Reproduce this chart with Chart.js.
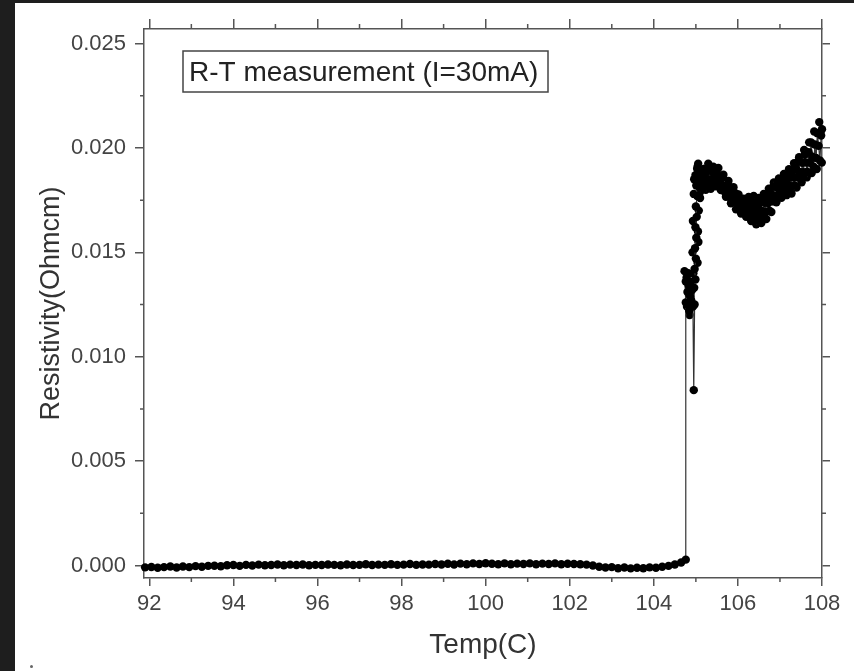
<!DOCTYPE html>
<html>
<head>
<meta charset="utf-8">
<script src="https://cdn.jsdelivr.net/npm/chart.js@4.4.0/dist/chart.umd.min.js"></script>
<style>
  html, body { margin: 0; padding: 0; background: #fff; }
  body { width: 854px; height: 671px; overflow: hidden; position: relative; }
  #edgeL { position: absolute; left: 0; top: 0; width: 15px; height: 671px; background: #1e1e1e; }
  #edgeT { position: absolute; left: 0; top: 0; width: 854px; height: 3px; background: #1e1e1e; }
  #speck { position: absolute; left: 30px; top: 665px; width: 3px; height: 3px; border-radius: 50%; background: #666; }
  #wrap { position: absolute; left: 15px; top: 3px; width: 839px; height: 668px; }
</style>
</head>
<body>
<div id="edgeL"></div>
<div id="edgeT"></div>
<div id="speck"></div>
<div id="wrap"><canvas id="rt"></canvas></div>
<script>
// temperature (C) and resistivity (Ohm cm)
const temps = [
  91.90, 92.05, 92.20, 92.35, 92.50, 92.65, 92.80, 92.95, 93.10, 93.25,
  93.40, 93.55, 93.70, 93.85, 94.00, 94.15, 94.30, 94.45, 94.60, 94.75,
  94.90, 95.05, 95.20, 95.35, 95.50, 95.65, 95.80, 95.95, 96.10, 96.25,
  96.40, 96.55, 96.70, 96.85, 97.00, 97.15, 97.30, 97.45, 97.60, 97.75,
  97.90, 98.05, 98.20, 98.35, 98.50, 98.65, 98.80, 98.95, 99.10, 99.25,
  99.40, 99.55, 99.70, 99.85, 100.00, 100.15, 100.30, 100.45, 100.60, 100.75,
  100.90, 101.05, 101.20, 101.35, 101.50, 101.65, 101.80, 101.95, 102.10, 102.25,
  102.40, 102.55, 102.70, 102.85, 103.00, 103.15, 103.30, 103.45, 103.60, 103.75,
  103.90, 104.05, 104.20, 104.35, 104.50, 104.65, 104.76,
  // jump
  104.76, 104.73, 104.78, 104.80, 104.76, 104.83, 104.81, 104.86, 104.84, 104.89,
  104.91, 104.93, 104.95, 104.97, 104.96, 104.99, 104.97, 105.00, 104.98, 105.01,
  104.99, 105.02, 105.00, 105.03, 105.01, 104.99, 105.03, 104.98,
  // above transition
  105.04, 105.07, 105.10, 105.13, 105.16, 105.19, 105.22, 105.25, 105.28, 105.31,
  105.34, 105.37, 105.40, 105.43, 105.46, 105.49, 105.52, 105.55, 105.58, 105.61,
  105.64, 105.67, 105.70, 105.73, 105.76, 105.79, 105.82, 105.85, 105.88, 105.91,
  105.94, 105.97, 106.00, 106.03, 106.06, 106.09, 106.12, 106.15, 106.18, 106.21,
  106.24, 106.27, 106.30, 106.33, 106.36, 106.39, 106.42, 106.45, 106.48, 106.51,
  106.54, 106.57, 106.60, 106.63, 106.66, 106.69, 106.72, 106.75, 106.78, 106.81,
  106.84, 106.87, 106.90, 106.93, 106.96, 106.99, 107.02, 107.05, 107.08, 107.11,
  107.14, 107.17, 107.20, 107.23, 107.26, 107.29, 107.32, 107.35, 107.38, 107.41,
  107.44, 107.47, 107.50, 107.53, 107.56, 107.59, 107.62, 107.65, 107.68, 107.71,
  107.74, 107.77, 107.80, 107.83, 107.86, 107.89, 107.92, 107.95, 107.98, 108.00
];
const resist = [
  -0.00009, -0.00007, -0.00011, -0.00008, -0.00005, -0.00010, -0.00005, -0.00008, -0.00003, -0.00006,
  -0.00002, -0.00001, -0.00004, 0.00001, 0.00002, -0.00002, 0.00003, 0.00000, 0.00004, 0.00001,
  0.00002, 0.00005, 0.00001, 0.00004, 0.00002, 0.00005, 0.00001, 0.00003, 0.00002, 0.00005,
  0.00003, 0.00001, 0.00005, 0.00002, 0.00003, 0.00006, 0.00002, 0.00004, 0.00003, 0.00006,
  0.00003, 0.00004, 0.00007, 0.00003, 0.00005, 0.00004, 0.00007, 0.00005, 0.00008, 0.00005,
  0.00009, 0.00006, 0.00010, 0.00007, 0.00011, 0.00008, 0.00006, 0.00010, 0.00006, 0.00009,
  0.00007, 0.00010, 0.00006, 0.00009, 0.00007, 0.00010, 0.00006, 0.00008, 0.00007, 0.00006,
  0.00004, 0.00000, -0.00006, -0.00010, -0.00008, -0.00013, -0.00010, -0.00014, -0.00011, -0.00013,
  -0.00009, -0.00011, -0.00006, -0.00002, 0.00005, 0.00014, 0.00028,
  0.0126, 0.0141, 0.0138, 0.0131, 0.0136, 0.0134, 0.0125, 0.0129, 0.0122, 0.0127,
  0.0132, 0.0124, 0.0084, 0.0125, 0.0133, 0.0137, 0.0142, 0.0147, 0.0152, 0.0157,
  0.0162, 0.0167, 0.0172, 0.0177, 0.0182, 0.0187, 0.0190, 0.0185,
  0.01910, 0.01850, 0.01810, 0.01880, 0.01830, 0.01900, 0.01860, 0.01815, 0.01890, 0.01840,
  0.01910, 0.01850, 0.01822, 0.01878, 0.01842, 0.01889, 0.01860, 0.01825, 0.01863, 0.01825,
  0.01860, 0.01816, 0.01785, 0.01819, 0.01782, 0.01816, 0.01785, 0.01750, 0.01788, 0.01750,
  0.01783, 0.01742, 0.01717, 0.01745, 0.01714, 0.01738, 0.01719, 0.01695, 0.01734, 0.01702,
  0.01750, 0.01704, 0.01670, 0.01725, 0.01679, 0.01739, 0.01701, 0.01656, 0.01727, 0.01676,
  0.01752, 0.01698, 0.01663, 0.01738, 0.01693, 0.01768, 0.01736, 0.01700, 0.01782, 0.01744,
  0.01815, 0.01772, 0.01750, 0.01811, 0.01776, 0.01838, 0.01811, 0.01781, 0.01846, 0.01810,
  0.01872, 0.01826, 0.01793, 0.01859, 0.01817, 0.01889, 0.01858, 0.01820, 0.01903, 0.01860,
  0.01938, 0.01885, 0.01850, 0.01929, 0.01884, 0.01967, 0.01930, 0.01886, 0.01980, 0.01929,
  0.02026, 0.01958, 0.01910, 0.02017, 0.01952, 0.02071, 0.02010, 0.01940, 0.02060, 0.02090
];

// extra points of the dense upper branch (drawn as dots only)
const temps2 = [
  104.82, 104.88, 104.85, 104.79, 104.94, 105.04, 104.92, 105.06, 104.93, 105.07,
  104.95, 105.05, 104.96, 105.08, 105.10,
  105.055, 105.115, 105.175, 105.235, 105.295, 105.355, 105.415, 105.475, 105.535, 105.595,
  105.655, 105.715, 105.775, 105.835, 105.895, 105.955, 106.015, 106.075, 106.135, 106.195,
  106.255, 106.315, 106.375, 106.435, 106.495, 106.555, 106.615, 106.675, 106.735, 106.795,
  106.855, 106.915, 106.975, 107.035, 107.095, 107.155, 107.215, 107.275, 107.335, 107.395,
  107.455, 107.515, 107.575, 107.635, 107.695, 107.755, 107.815, 107.875, 107.935, 107.995
];
const resist2 = [
  0.0140, 0.0136, 0.0120, 0.0124, 0.0140, 0.0145, 0.0150, 0.0155, 0.0165, 0.0170,
  0.0178, 0.0160, 0.0185, 0.0178, 0.0176,
  0.01925, 0.01795, 0.01885, 0.01800, 0.01925, 0.01805, 0.01910, 0.01816, 0.01904, 0.01798,
  0.01872, 0.01766, 0.01842, 0.01735, 0.01812, 0.01706, 0.01777, 0.01686, 0.01757, 0.01670,
  0.01765, 0.01650, 0.01770, 0.01635, 0.01761, 0.01640, 0.01780, 0.01660, 0.01805, 0.01693,
  0.01835, 0.01740, 0.01854, 0.01761, 0.01876, 0.01774, 0.01898, 0.01782, 0.01927, 0.01811,
  0.01956, 0.01836, 0.01990, 0.01859, 0.02027, 0.01880, 0.02079, 0.01899, 0.02124, 0.01930
];

const xTicks = [92, 94, 96, 98, 100, 102, 104, 106, 108];
const xMinor = [93, 95, 97, 99, 101, 103, 105, 107];
const yTicks = [0, 0.005, 0.01, 0.015, 0.02, 0.025];
const yMinor = [0.0025, 0.0075, 0.0125, 0.0175, 0.0225];

const fam = '"Liberation Sans", Arial, Helvetica, sans-serif';
Chart.defaults.font.family = fam;

const frameCol = '#555';

// short minor ticks on all four sides
const minorTicks = {
  id: 'minorTicks',
  afterDraw(chart) {
    const ctx = chart.ctx;
    const a = chart.chartArea;
    ctx.save();
    ctx.strokeStyle = frameCol;
    ctx.lineWidth = 1.5;
    ctx.beginPath();
    for (const v of xMinor) {
      const px = chart.scales.x.getPixelForValue(v);
      ctx.moveTo(px, a.bottom); ctx.lineTo(px, a.bottom + 4);
      ctx.moveTo(px, a.top); ctx.lineTo(px, a.top - 5);
    }
    for (const v of yMinor) {
      const py = chart.scales.y.getPixelForValue(v);
      ctx.moveTo(a.left, py); ctx.lineTo(a.left - 4, py);
      ctx.moveTo(a.right, py); ctx.lineTo(a.right + 4, py);
    }
    ctx.stroke();
    ctx.restore();
  }
};

// boxed label in upper left
const labelBox = {
  id: 'labelBox',
  afterDraw(chart) {
    const ctx = chart.ctx;
    const a = chart.chartArea;
    const x = a.left + 39, y = a.top + 22;
    ctx.save();
    ctx.strokeStyle = '#444';
    ctx.lineWidth = 1.5;
    ctx.strokeRect(x, y, 365, 41);
    ctx.fillStyle = '#222';
    ctx.font = '28px ' + fam;
    ctx.textBaseline = 'alphabetic';
    ctx.fillText('R-T measurement (I=30mA)', x + 6, y + 30);
    ctx.restore();
  }
};

const pts = temps.map((t, i) => ({ x: t, y: resist[i] }));
const pts2 = temps2.map((t, i) => ({ x: t, y: resist2[i] }));

function axisBase(extra) {
  return Object.assign({
    type: 'linear',
    grid: { drawOnChartArea: false, drawTicks: true, tickLength: 8, color: frameCol, lineWidth: 1.5 },
    border: { display: true, color: frameCol, width: 1.5 }
  }, extra);
}

new Chart(document.getElementById('rt'), {
  type: 'scatter',
  data: {
    datasets: [{
      data: pts,
      showLine: true,
      borderColor: '#333',
      borderWidth: 1.2,
      pointRadius: 4.2,
      pointBackgroundColor: '#000',
      pointBorderWidth: 0,
      clip: false
    }, {
      data: pts2,
      showLine: false,
      pointRadius: 4.2,
      pointBackgroundColor: '#000',
      pointBorderWidth: 0,
      clip: false
    }]
  },
  options: {
    responsive: true,
    maintainAspectRatio: false,
    animation: false,
    layout: { padding: 0 },
    plugins: { legend: { display: false }, tooltip: { enabled: false } },
    scales: {
      x: axisBase({
        position: 'bottom',
        min: 91.874, max: 108,
        afterBuildTicks: s => { s.ticks = xTicks.map(v => ({ value: v })); },
        afterFit: s => { s.height = 93; },
        ticks: { font: { size: 22 }, color: '#444', padding: 5, maxRotation: 0, autoSkip: false,
                 callback: v => String(v) },
        title: { display: true, text: 'Temp(C)', font: { size: 28 }, color: '#333',
                 padding: { top: 0, bottom: 9 } }
      }),
      x2: axisBase({
        position: 'top',
        min: 91.874, max: 108,
        afterBuildTicks: s => { s.ticks = xTicks.map(v => ({ value: v })); },
        afterFit: s => { s.height = 26; },
        grid: { drawOnChartArea: false, drawTicks: true, tickLength: 10, color: frameCol, lineWidth: 1.5 },
        ticks: { display: false }
      }),
      y: axisBase({
        position: 'left',
        min: -0.0006, max: 0.0257,
        afterBuildTicks: s => { s.ticks = yTicks.map(v => ({ value: v })); },
        afterFit: s => { s.width = 129; },
        grid: { drawOnChartArea: false, drawTicks: true, tickLength: 9, color: frameCol, lineWidth: 1.5 },
        ticks: { font: { size: 22 }, color: '#444', padding: 9,
                 callback: v => v.toFixed(3) },
        title: { display: true, text: 'Resistivity(Ohmcm)', font: { size: 27 }, color: '#333',
                 padding: { top: 20, bottom: 0 } }
      }),
      y2: axisBase({
        position: 'right',
        min: -0.0006, max: 0.0257,
        afterBuildTicks: s => { s.ticks = yTicks.map(v => ({ value: v })); },
        afterFit: s => { s.width = 32; },
        ticks: { display: false }
      })
    }
  },
  plugins: [minorTicks, labelBox]
});
</script>
</body>
</html>
